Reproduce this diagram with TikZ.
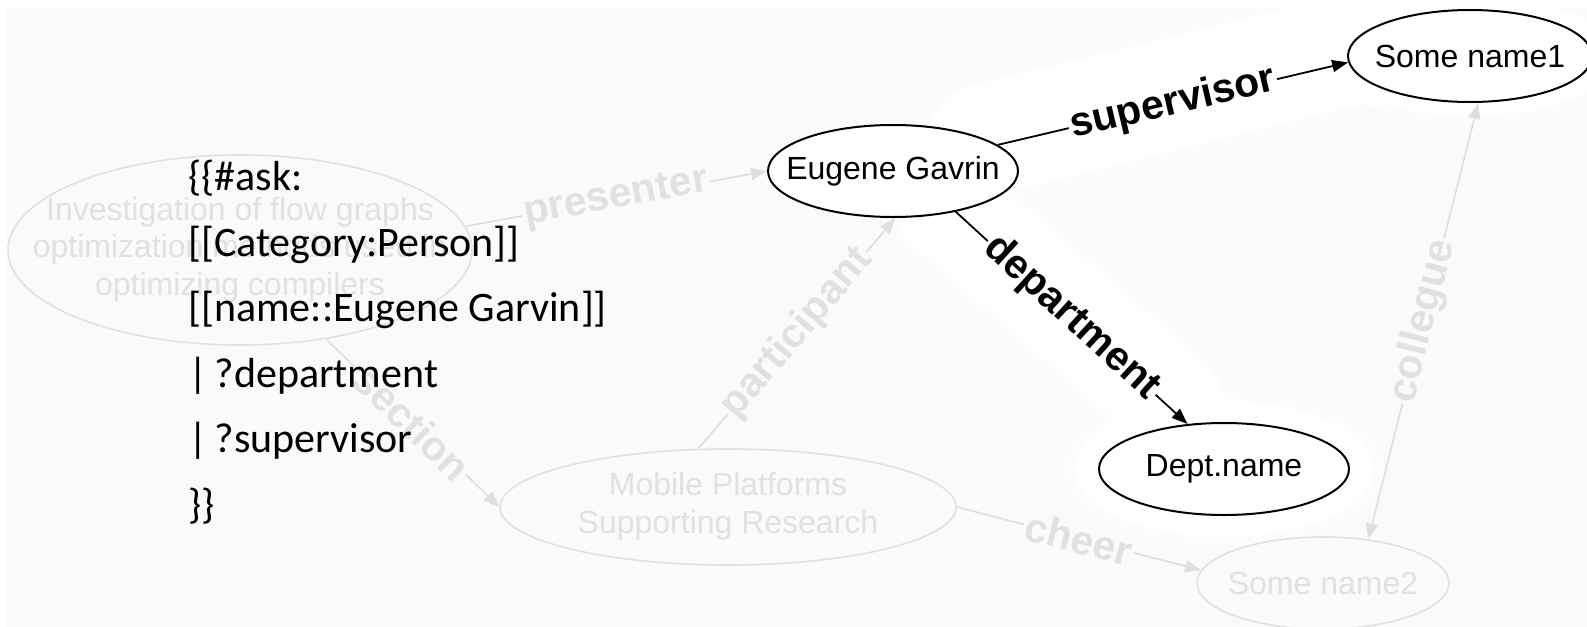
\documentclass[tikz,border=0pt]{standalone}
\usepackage{fontspec}
\setmainfont{Liberation Sans}
\newfontfamily\queryfont{Carlito}
\usetikzlibrary{arrows.meta,shapes.geometric}
\definecolor{canvas}{HTML}{FAFAFA}
\definecolor{faint}{HTML}{E1E1E1}
\definecolor{faintline}{HTML}{DFDFDF}
\begin{document}
\begin{tikzpicture}[x=0.5pt,y=-0.5pt,
  nodefont/.style={font=\fontsize{16}{18.75}\selectfont},
  ent/.style={ellipse, draw=black, line width=1pt, fill=white, inner sep=0pt, nodefont},
  ghost/.style={ellipse, draw=faint, line width=0.8pt, inner sep=0pt, text=faint, nodefont},
  rel/.style={draw=black, line width=0.9pt, -{Triangle[length=8pt,width=6pt]}},
  ghostrel/.style={draw=faintline, line width=0.8pt, -{Triangle[length=8pt,width=6pt]}},
  ghostboth/.style={draw=faintline, line width=0.8pt, {Triangle[length=8pt,width=6pt]}-{Triangle[length=8pt,width=6pt]}},
  rellabel/.style={sloped, fill=white, inner sep=1pt, font=\bfseries\fontsize{20.5}{24}\selectfont},
  ghostlabel/.style={sloped, fill=canvas, text=faint, inner sep=1pt, font=\bfseries\fontsize{20.5}{24}\selectfont},
  qline/.style={anchor=base west, inner sep=0pt, font=\queryfont\fontsize{21}{24}\selectfont}
]
\useasboundingbox (0,0) rectangle (1587,627);
\fill[canvas] (7,8) rectangle (1590,630);

% soft white glow around the highlighted part of the graph
\foreach \w/\o in {64/0.3, 58/0.55, 54/1} {
  \draw[white, opacity=\o, line width=\w pt, line cap=round] (985,140) -- (1390,40);
  \draw[white, opacity=\o, line width=\w pt - 4pt, line cap=round] (945,205) -- (1170,400);
}
\fill[white, opacity=0.5] (1224,469) ellipse [x radius=80pt, y radius=38pt];
\fill[white] (1224,469) ellipse [x radius=75pt, y radius=34pt];
\fill[white, opacity=0.5] (1470,56) ellipse [x radius=76pt, y radius=33pt];
\fill[white] (1470,56) ellipse [x radius=72pt, y radius=30pt];

% faded background graph
\node[ghost, minimum width=232pt, minimum height=95pt] (inv) at (240,250)
  {\makebox[0pt]{\begin{tabular}{@{}c@{}}Investigation of flow graphs\\optimization methods used in\\optimizing compilers\end{tabular}}};
\node[ghost, minimum width=228pt, minimum height=58pt] (mob) at (728,507)
  {\makebox[0pt]{\begin{tabular}{@{}c@{}}Mobile Platforms\\Supporting Research\end{tabular}}};
\node[ghost, minimum width=126pt, minimum height=46pt] (s2) at (1323,583)
  {\makebox[0pt]{Some name2}};

% highlighted entities
\node[ent, minimum width=125pt, minimum height=46pt] (eug) at (893,171)
  {\makebox[0pt]{Eugene Gavrin}};
\node[ent, minimum width=122pt, minimum height=46pt] (s1) at (1470,56)
  {\makebox[0pt]{Some name1}};
\node[ent, minimum width=125pt, minimum height=46pt] (dept) at (1224,469)
  {\makebox[0pt]{Dept.name}};

% faded relations
\draw[ghostrel] (inv.6) -- node[ghostlabel]{presenter} (eug.west);
\draw[ghostrel] (inv.-46) -- node[ghostlabel]{section} (mob.west);
\draw[ghostrel] (mob.117) -- node[ghostlabel]{participant} (eug.-87);
\draw[ghostrel] (mob.east) -- node[ghostlabel]{cheer} (s2.174);
\draw[ghostboth] (s2.44) -- node[ghostlabel]{collegue} (s1.-80);

% highlighted relations
\draw[rel] (eug.14) -- node[rellabel]{supervisor} (s1.183);
\draw[rel] (eug.-33) -- node[rellabel]{department} (dept.129);

% query text
\node[qline] (q1) at (188,190) {\{\{\#ask:};
\node[qline] (q2) at (188,256) {[[Category:Person]]};
\node[qline] (q3) at (188,321) {[[name::Eugene Garvin]]};
\node[qline] (q4) at (188,387) {|\,?department};
\node[qline] (q5) at (188,452) {|\,?supervisor};
\node[qline] (q6) at (188,518) {\}\}};
\end{tikzpicture}
\end{document}
